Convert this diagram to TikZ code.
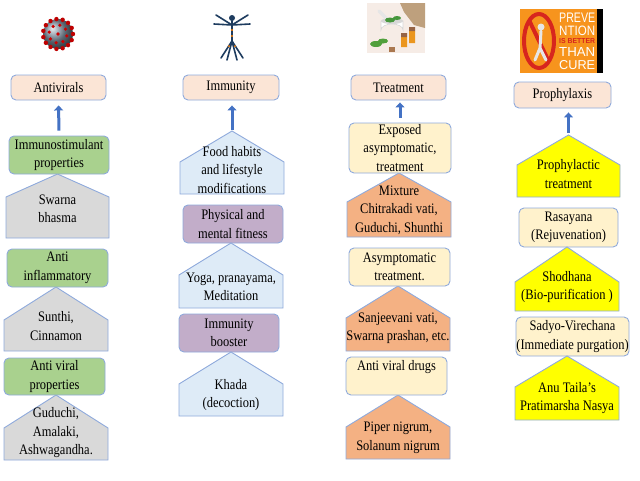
\documentclass[tikz,border=0pt]{standalone}
\usepackage{fontspec}
\setmainfont{Liberation Serif}[FakeStretch=0.86]
\setsansfont{Liberation Sans}
\usetikzlibrary{arrows.meta}
\definecolor{bord}{HTML}{8FAADC}
\definecolor{peach}{HTML}{FBE5D6}
\definecolor{grn}{HTML}{A9D18E}
\definecolor{gry}{HTML}{D9D9D9}
\definecolor{lblue}{HTML}{DEEBF7}
\definecolor{purp}{HTML}{C2ADC9}
\definecolor{cream}{HTML}{FFF2CC}
\definecolor{orng}{HTML}{F4B183}
\definecolor{yel}{HTML}{FFFF00}
\definecolor{arr}{HTML}{4472C4}
\definecolor{postor}{HTML}{F7941D}
\definecolor{virgray}{RGB}{130,145,160}
\definecolor{navy}{RGB}{30,60,95}
\definecolor{herbbg}{RGB}{246,236,230}
\definecolor{burlap}{RGB}{190,160,125}
\definecolor{bowlrim}{RGB}{215,215,215}
\definecolor{leaf}{RGB}{70,150,60}
\definecolor{leafb}{RGB}{80,160,60}
\definecolor{oil}{RGB}{235,150,30}
\definecolor{cork}{RGB}{150,100,70}
\definecolor{corkb}{RGB}{170,120,80}
\definecolor{prohib}{RGB}{215,38,30}
\definecolor{figgray}{RGB}{230,230,230}
\newcommand\rbx[7]{%
  \node[rb, fill=#6, minimum width={(#3-#2)*1pt}, minimum height={(#5-#4)*1pt}]
    (#1) at ({(#2+#3)/2},{(#4+#5)/2}) {#7};}
\newcommand\housepent[9]{%
  \draw[hs, fill=#7] (#2,#6) -- (#2,#5) -- ({(#2+#3)/2},#4) -- (#3,#5) -- (#3,#6) -- cycle;
  \coordinate (#1-apex) at ({(#2+#3)/2},#4);
  \node[txt] (#1) at ({(#2+#3)/2},#8) {#9};}
\begin{document}
\begin{tikzpicture}[x=1pt,y=-1pt,
  txt/.style={align=center, inner sep=0pt, font=\fontsize{14.5}{18.5}\selectfont, text=black},
  rb/.style={txt, draw=bord, line width=0.9pt, rounded corners=5pt},
  hs/.style={draw=bord, line width=0.9pt, line join=miter},
  uparr/.style={draw=arr, line width=3pt, -{Triangle[length=5pt,width=9pt]}}]
\useasboundingbox (0,0) rectangle (640,480);
\fill[white] (0,0) rectangle (640,480);

% ---------- images ----------
% virus
\shade[ball color=virgray] (58,34) circle (15);
\foreach \a in {0,24,...,359} {\fill[red!75!black] (58,34) ++(\a:15) circle (2.2);}
\foreach \a in {12,57,...,359} {\fill[red!80!black] (58,34) ++(\a:9) circle (1.8);}
\fill[red!80!black] (58,34) circle (1.8);
% human figure
\begin{scope}[draw=navy, line width=1.6pt, line cap=round]
  \fill[navy] (232,18) circle (3);
  \draw (232,21) -- (232,41);
  \draw (232,25) -- (214,24) (232,25) -- (250,24);
  \draw (232,25) -- (216,15) (232,25) -- (248,15);
  \draw (232,41) -- (227,60) (232,41) -- (237,60);
  \draw (232,41) -- (221,58) (232,41) -- (243,58);
  \fill[orange] (232,30) circle (1.2) (232,36) circle (1.2) (229,46) circle (1) (235,46) circle (1);
\end{scope}
% herbs
\fill[herbbg] (367,3) rectangle (425,53);
\fill[burlap] (400,3) -- (425,3) -- (425,28) -- (414,25) -- (404,12) -- cycle;
\fill[white, draw=bowlrim, line width=0.6pt] (381,21) -- (381,30) arc[start angle=180, end angle=360, x radius=11, y radius=6] -- (403,21) -- cycle;
\fill[bowlrim] (392,21) ellipse (11 and 3);
\draw[figgray, line width=3.5pt, line cap=round] (387,19) -- (379,11);
\fill[leaf] (390,20) ellipse (5 and 2.5) (397,18) ellipse (4 and 2);
\fill[leafb] (376,44) ellipse (6 and 3) (383,41) ellipse (5 and 2.5);
\fill[oil] (401,37) rectangle (407,47) (409,31) rectangle (415,43);
\fill[cork] (401,33) rectangle (407,37) (409,27) rectangle (415,31);
\fill[corkb] (389,47) rectangle (395,52);
% prevention poster
\fill[postor] (520,9) rectangle (603,73);
\fill[black] (597,9) rectangle (603,73);
\draw[prohib, line width=4pt] (539,41) ellipse (15 and 27);
\draw[prohib, line width=4pt] (529,20) -- (549,62);
\fill[figgray] (541,27) circle (3.5);
\draw[figgray, line width=3pt, line cap=round] (541,31) -- (540,48) -- (535,60) (540,48) -- (546,60);
\begin{scope}[every node/.style={inner sep=0pt, anchor=west, text=white}]
  \node (pv1) at (559,18) {\resizebox{36pt}{9.5pt}{\sffamily PREVE}};
  \node (pv2) at (559,31) {\resizebox{36pt}{9.5pt}{\sffamily NTION}};
  \node[text=prohib] (pv3) at (559,41.5) {\resizebox{36pt}{5pt}{\sffamily\bfseries IS BETTER}};
  \node (pv4) at (559,52) {\resizebox{36pt}{9pt}{\sffamily THAN}};
  \node (pv5) at (559,65.5) {\resizebox{36pt}{9pt}{\sffamily CURE}};
\end{scope}

% ---------- headers ----------
\rbx{hdr1}{11}{106}{75}{100}{peach}{Antivirals}
\rbx{hdr2}{183}{279}{75}{100}{peach}{Immunity}
\rbx{hdr3}{351}{446}{75}{100}{peach}{Treatment}
\rbx{hdr4}{514}{611}{82}{108}{peach}{Prophylaxis}

% ---------- column 1 ----------
\housepent{p11}{6}{109}{174}{197}{238}{gry}{209}{Swarna\\bhasma}
\rbx{b11}{9}{109}{136}{174}{grn}{Immunostimulant\\properties}
\housepent{p12}{4}{108}{287}{320}{351}{gry}{326}{Sunthi,\\Cinnamon}
\rbx{b12}{7}{108}{249}{287}{grn}{Anti\\inflammatory}
\housepent{p13}{4}{108}{395}{428}{460}{gry}{433}{Guduchi,\\Amalaki,\\Ashwagandha.}
\rbx{b13}{4}{105}{358}{395}{grn}{Anti viral\\properties}

% ---------- column 2 ----------
\housepent{p21}{180}{284}{131}{162}{194}{lblue}{170}{Food habits\\and lifestyle\\modifications}
\rbx{b21}{183}{283}{205}{243}{purp}{Physical and\\mental fitness}
\housepent{p22}{179}{283}{243}{275}{308}{lblue}{287}{Yoga, pranayama,\\Meditation}
\rbx{b22}{179}{279}{314}{352}{purp}{Immunity\\booster}
\housepent{p23}{179}{283}{352}{384}{416}{lblue}{395}{Khada\\(decoction)}

% ---------- column 3 ----------
\housepent{p31}{347}{451}{173}{202}{237}{orng}{210}{Mixture\\Chitrakadi vati,\\Guduchi, Shunthi}
\rbx{b31}{349}{451}{123}{173}{cream}{Exposed\\asymptomatic,\\treatment}
\housepent{p32}{346}{450}{286}{318}{351}{orng}{328}{Sanjeevani vati,\\Swarna prashan, etc.}
\rbx{b32}{349}{450}{248}{286}{cream}{Asymptomatic\\treatment.}
\housepent{p33}{346}{450}{395}{427}{459}{orng}{438}{Piper nigrum,\\Solanum nigrum}
\rbx{b33}{346}{447}{357}{395}{cream}{Anti viral drugs\\[2pt]\mbox{}}

% ---------- column 4 ----------
\housepent{p41}{517}{620}{135}{165}{197}{yel}{174}{Prophylactic\\treatment}
\rbx{b41}{519}{618}{208}{247}{cream}{Rasayana\\(Rejuvenation)}
\housepent{p42}{515}{619}{247}{282}{311}{yel}{287}{Shodhana\\(Bio-purification )}
\rbx{b42}{516}{629}{317}{356}{cream}{Sadyo-Virechana\\(Immediate purgation)}
\housepent{p43}{515}{619}{356}{387}{420}{yel}{398}{Anu Taila's\\Pratimarsha Nasya}

% ---------- arrows ----------
\draw[uparr, shorten <=5pt, shorten >=5pt] (b11.north) -- (hdr1.south);
\draw[uparr, shorten <=1pt, shorten >=5pt] (p21-apex) -- (hdr2.south -| p21-apex);
\draw[uparr, shorten <=5pt, shorten >=2pt] (b31.north) -- (hdr3.south -| b31.north);
\draw[uparr, shorten <=2pt, shorten >=4pt] (p41-apex) -- (hdr4.south -| p41-apex);
\end{tikzpicture}
\end{document}
